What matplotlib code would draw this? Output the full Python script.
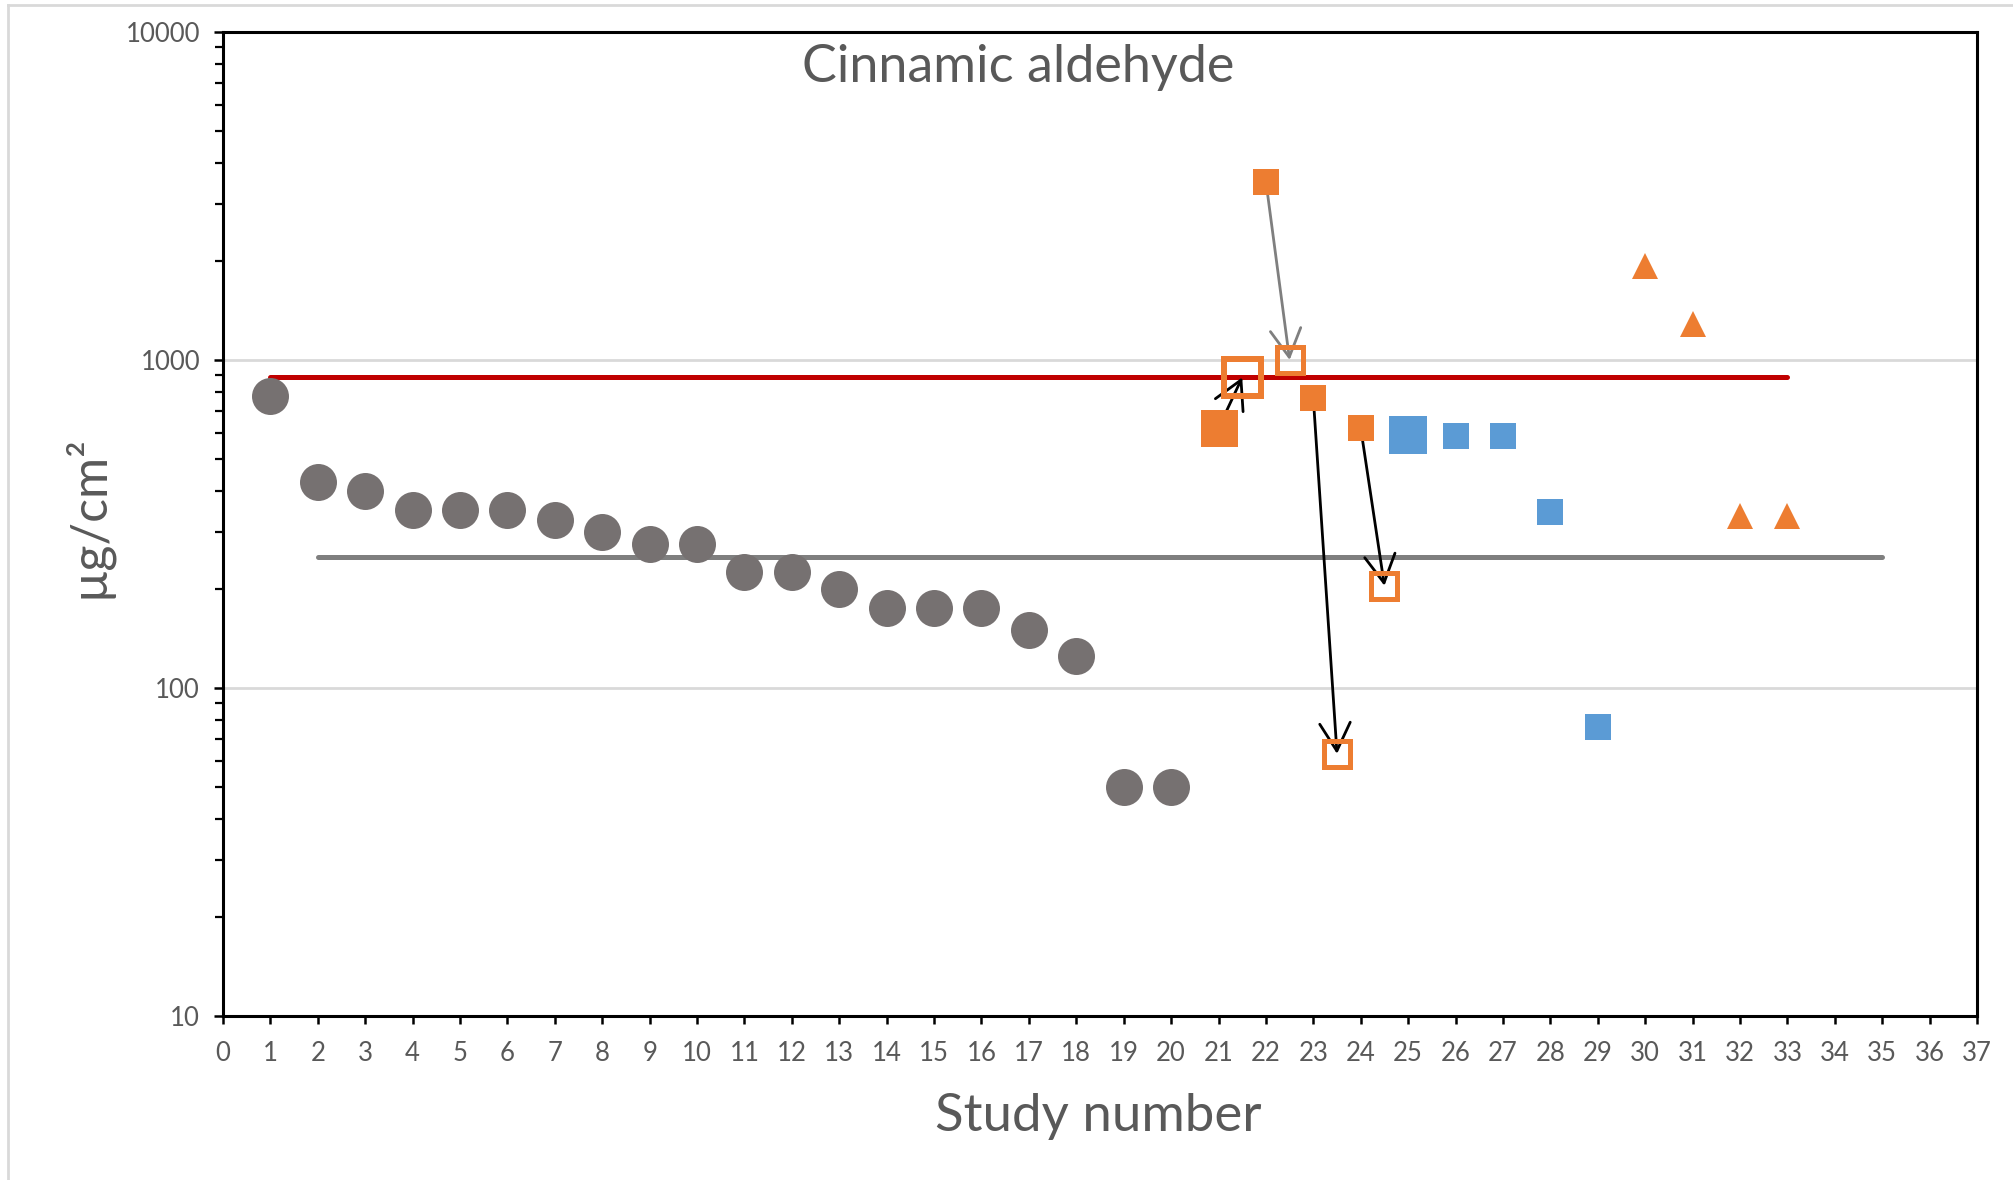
import matplotlib.pyplot as plt
from matplotlib.lines import Line2D
from matplotlib.patches import ArrowStyle
from matplotlib.ticker import FixedLocator, LogLocator, NullFormatter, FuncFormatter

#----------------------------------------------------------------
# data
study_circles = list(range(1, 21))
value_circles = [775, 425, 400, 350, 350, 350, 325, 300, 275, 275,
                 225, 225, 200, 175, 175, 175, 150, 125, 50, 50]

orange_big_x = [21]
orange_big_y = [620]
orange_x = [22, 23, 24]
orange_y = [3500, 765, 620]

open_big_x = [21.5]
open_big_y = [885]
open_x = [22.5, 23.5, 24.5]
open_y = [1000, 63, 205]

blue_big_x = [25]
blue_big_y = [590]
blue_x = [26, 27, 28, 29]
blue_y = [585, 585, 345, 76]

tri_x = [30, 31, 32, 33]
tri_y = [1940, 1290, 335, 335]

# arrows: (from x, from y, to x, to y, colour)
arrow_from_x = [21, 22, 23, 24]
arrow_from_y = [620, 3500, 765, 620]
arrow_to_x = [21.5, 22.5, 23.5, 24.5]
arrow_to_y = [885, 1000, 63, 205]
arrow_col = ["black", "#7F7F7F", "black", "black"]

red_x = [1, 33]
red_level = 885
grey_x = [2, 35]
grey_level = 250

#----------------------------------------------------------------
plt.rcParams['font.family'] = ['Lato', 'DejaVu Sans']
txt = "#595959"
orange = "#ED7D31"
blue = "#5B9BD5"
px = 0.72  # points per pixel at dpi 100

fig = plt.figure(figsize=(20.13, 11.8), dpi=100)
ax = fig.add_axes([223/2013, 1-1016/1180, (1977-223)/2013, (1016-32)/1180])

ax.set_yscale('log')
ax.set_xlim(0, 37)
ax.set_ylim(10, 10000)

# grid only at 100 / 1000
for g in [100, 1000]:
	ax.axhline(g, color="#D9D9D9", lw=2.0, zorder=0)

ax.plot(red_x, [red_level]*2, color="#C00000", lw=5*px, solid_capstyle='round', zorder=2)
ax.plot(grey_x, [grey_level]*2, color="#7F7F7F", lw=5*px, solid_capstyle='round', zorder=2)

for i in range(len(arrow_from_x)) :
	ax.annotate("", xy=(arrow_to_x[i], arrow_to_y[i]), xytext=(arrow_from_x[i], arrow_from_y[i]),
		arrowprops=dict(arrowstyle=ArrowStyle('->', head_length=20, head_width=11),
			mutation_scale=1, color=arrow_col[i], lw=2.0, shrinkA=0, shrinkB=0),
		zorder=3)

ax.plot(study_circles, value_circles, 'o', ms=37*px, color="#767171", mew=0, zorder=4)
ax.plot(orange_big_x, orange_big_y, 's', ms=37*px, color=orange, mew=0, zorder=4)
ax.plot(orange_x, orange_y, 's', ms=26*px, color=orange, mew=0, zorder=4)
ax.plot(open_big_x, open_big_y, 's', ms=37*px, mfc='none', mec=orange, mew=6*px, zorder=4)
ax.plot(open_x, open_y, 's', ms=26*px, mfc='none', mec=orange, mew=5*px, zorder=4)
ax.plot(blue_big_x, blue_big_y, 's', ms=38*px, color=blue, mew=0, zorder=4)
ax.plot(blue_x, blue_y, 's', ms=26*px, color=blue, mew=0, zorder=4)
ax.plot(tri_x, tri_y, '^', ms=27*px, color=orange, mew=0, zorder=4)

# axes look
for s in ax.spines.values() :
	s.set_linewidth(2.2)
	s.set_color("black")

ax.xaxis.set_major_locator(FixedLocator(range(0, 38)))
ax.yaxis.set_major_locator(FixedLocator([10, 100, 1000, 10000]))
ax.yaxis.set_minor_locator(LogLocator(base=10, subs=range(2, 10)))
ax.yaxis.set_minor_formatter(NullFormatter())
ax.yaxis.set_major_formatter(FuncFormatter(lambda v, p: "%d" % v))

ax.tick_params(axis='x', which='major', direction='out', length=6, width=1.8,
	colors='black', labelcolor=txt, labelsize=18.5, pad=12)
ax.tick_params(axis='y', which='major', direction='out', length=6.5, width=1.8,
	colors='black', labelcolor=txt, labelsize=18.5, pad=10)
ax.tick_params(axis='y', which='minor', direction='out', length=5.5, width=1.6, colors='black')

fig.text(1018/2013, 1-82/1180, "Cinnamic aldehyde", ha='center', va='baseline',
	fontsize=37.5, color=txt)
fig.text(1098/2013, 1-1131/1180, "Study number", ha='center', va='baseline',
	fontsize=38, color=txt)
fig.text(87/2013, 1-517/1180, "µg/cm²", ha='center', va='center', rotation=90,
	fontsize=36, color=txt)

# light chart-area border (left and top only visible)
fig.add_artist(Line2D([8/2013, 8/2013], [0, 1-5/1180], color="#D9D9D9", lw=2.0))
fig.add_artist(Line2D([8/2013, 1], [1-5/1180, 1-5/1180], color="#D9D9D9", lw=2.0))

fig.savefig("out.png", dpi=100)
